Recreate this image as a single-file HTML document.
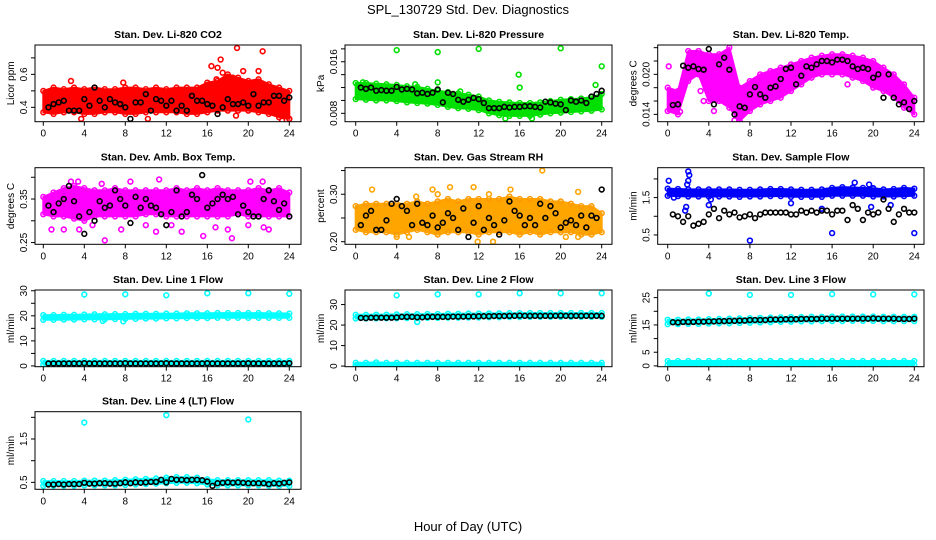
<!DOCTYPE html>
<html><head><meta charset="utf-8">
<style>
html,body{margin:0;padding:0;background:#fff;}
svg{display:block;font-family:"Liberation Sans",sans-serif;}
</style></head>
<body>
<svg id="chart" width="936" height="540" viewBox="0 0 936 540" xmlns="http://www.w3.org/2000/svg">
<text x="468" y="14" text-anchor="middle" font-size="13">SPL_130729  Std. Dev. Diagnostics</text>
<text x="468" y="531" text-anchor="middle" font-size="13">Hour of Day (UTC)</text>
</svg>
<script>
// ---------- data ----------
const hours = [0,1,2,3,4,5,6,7,8,9,10,11,12,13,14,15,16,17,18,19,20,21,22,23,24];
const blackTimes = [0.5,1,1.5,2,2.5,3,3.5,4,4.5,5,5.5,6,6.5,7,7.5,8,8.5,9,9.5,10,10.5,11,11.5,12,12.5,13,13.5,14,14.5,15,15.5,16,16.5,17,17.5,18,18.5,19,19.5,20,20.5,21,21.5,22,22.5,23,23.5,24];

const co2Lo = [0.37,0.36,0.37,0.37,0.36,0.36,0.37,0.37,0.36,0.36,0.37,0.37,0.37,0.37,0.36,0.36,0.37,0.38,0.38,0.38,0.38,0.37,0.36,0.34,0.33];
const co2Hi = [0.50,0.52,0.51,0.52,0.51,0.52,0.51,0.51,0.52,0.52,0.51,0.52,0.51,0.52,0.52,0.52,0.55,0.56,0.60,0.58,0.56,0.57,0.54,0.52,0.50];
const co2Out = [[16.4,0.65],[17,0.64],[17.3,0.69],[18.9,0.76],[21.4,0.74],[21,0.62],[19.5,0.62],[3.7,0.33],[10.2,0.33],[18.8,0.35],[24,0.33],[23.3,0.32],[17.5,0.61],[18.5,0.58],[19.8,0.55],[2.7,0.56],[7.8,0.55],[16.9,0.57]];
const co2Black = [0.40,0.42,0.43,0.44,0.38,0.38,0.38,0.45,0.41,0.52,0.44,0.40,0.45,0.43,0.42,0.40,0.33,0.43,0.43,0.48,0.38,0.45,0.44,0.41,0.44,0.38,0.41,0.38,0.47,0.44,0.44,0.42,0.41,0.36,0.40,0.45,0.42,0.42,0.43,0.41,0.48,0.41,0.43,0.43,0.47,0.47,0.44,0.46];

const presLo = [0.0102,0.0101,0.0100,0.0100,0.0099,0.0097,0.0096,0.0095,0.0093,0.0090,0.0088,0.0087,0.0085,0.0080,0.0077,0.0076,0.0076,0.0076,0.0078,0.0080,0.0081,0.0082,0.0083,0.0084,0.0086];
const presHi = [0.0127,0.0127,0.0126,0.0125,0.0124,0.0122,0.0121,0.0118,0.0115,0.0113,0.0111,0.0109,0.0106,0.0100,0.0098,0.0097,0.0096,0.0096,0.0097,0.0099,0.0101,0.0102,0.0103,0.0105,0.0110];
const presOut = [[4,0.0178],[8,0.0175],[12,0.0180],[20,0.0181],[24,0.0153],[15.9,0.0140],[16,0.0120],[0.7,0.0128],[8,0.0128],[23.4,0.0124],[5.8,0.0125],[10.2,0.0114],[14.6,0.0072],[17.2,0.0072]];
const presBlack = [0.0120,0.0118,0.0120,0.0115,0.0116,0.0115,0.0115,0.0121,0.0117,0.0118,0.0117,0.0111,0.0112,0.0110,0.0112,0.0117,0.0097,0.0112,0.0110,0.0101,0.0098,0.0101,0.0104,0.0102,0.0096,0.0088,0.0088,0.0088,0.0090,0.0089,0.0090,0.0090,0.0091,0.0091,0.0090,0.0089,0.0098,0.0097,0.0095,0.0094,0.0085,0.0100,0.0098,0.0100,0.0096,0.0106,0.0110,0.0115];

const tempLo = [0.0145,0.0140,0.0190,0.0200,0.0160,0.0160,0.0150,0.0130,0.0145,0.0155,0.0160,0.0165,0.0175,0.0185,0.0195,0.0200,0.0200,0.0200,0.0195,0.0190,0.0180,0.0175,0.0165,0.0150,0.0140];
const tempHi = [0.0180,0.0175,0.0235,0.0235,0.0230,0.0230,0.0240,0.0180,0.0190,0.0200,0.0205,0.0210,0.0215,0.0220,0.0225,0.0228,0.0230,0.0230,0.0228,0.0225,0.0220,0.0210,0.0200,0.0185,0.0165];
const tempOut = [[0.1,0.0212],[1.2,0.0144],[3.5,0.0160],[4.5,0.0145],[6.5,0.0131],[7.5,0.0150],[17.5,0.0185],[21.5,0.0195],[3.2,0.0175],[5.3,0.0178]];
const tempBlack = [0.0154,0.0155,0.0213,0.0210,0.0212,0.0208,0.0207,0.0238,0.0155,0.0215,0.0225,0.0207,0.0140,0.0152,0.0150,0.0170,0.0181,0.0170,0.0165,0.0180,0.0182,0.0193,0.0208,0.0210,0.0185,0.0198,0.0212,0.0210,0.0215,0.0220,0.0220,0.0218,0.0222,0.0222,0.0220,0.0212,0.0208,0.0210,0.0208,0.0195,0.0200,0.0165,0.0200,0.0165,0.0155,0.0158,0.0148,0.0160];

const ambLo = [0.315,0.31,0.31,0.305,0.30,0.31,0.31,0.31,0.31,0.31,0.315,0.315,0.31,0.31,0.31,0.31,0.31,0.31,0.31,0.315,0.31,0.31,0.31,0.31,0.31];
const ambHi = [0.355,0.365,0.375,0.38,0.375,0.37,0.37,0.375,0.37,0.37,0.37,0.37,0.37,0.375,0.37,0.375,0.37,0.375,0.37,0.37,0.37,0.375,0.37,0.375,0.365];
const ambOut = [[0.8,0.28],[2,0.28],[3.5,0.28],[6,0.255],[10,0.29],[11,0.275],[12.5,0.29],[13.5,0.275],[15.6,0.265],[16.8,0.285],[18.4,0.26],[18,0.28],[20,0.29],[21.5,0.285],[22,0.28],[2.7,0.39],[3.4,0.39],[11.3,0.395],[20.2,0.39],[21.4,0.39],[8.5,0.39],[5.7,0.385],[4.8,0.29],[7.6,0.28]];
const ambBlack = [0.335,0.32,0.34,0.35,0.38,0.345,0.31,0.27,0.32,0.30,0.345,0.33,0.335,0.37,0.35,0.335,0.295,0.355,0.33,0.35,0.335,0.33,0.315,0.29,0.32,0.37,0.31,0.32,0.36,0.35,0.405,0.33,0.34,0.35,0.36,0.35,0.355,0.315,0.335,0.32,0.31,0.31,0.35,0.37,0.345,0.325,0.34,0.31];

const rhLo = [0.225,0.22,0.22,0.22,0.215,0.22,0.225,0.22,0.215,0.22,0.22,0.22,0.215,0.22,0.22,0.22,0.215,0.22,0.215,0.22,0.22,0.22,0.215,0.215,0.22];
const rhHi = [0.275,0.28,0.28,0.28,0.28,0.28,0.285,0.28,0.285,0.29,0.285,0.29,0.29,0.29,0.29,0.295,0.29,0.29,0.29,0.285,0.285,0.28,0.275,0.275,0.26];
const rhOut = [[1.6,0.31],[7.5,0.31],[9.2,0.315],[11.5,0.315],[15.1,0.31],[18.2,0.35],[21.7,0.305],[13.4,0.20],[4,0.21],[5.2,0.21],[11.9,0.20],[20.5,0.21],[21.7,0.21],[13,0.30],[8,0.30],[5.9,0.295]];
const rhBlack = [0.235,0.255,0.265,0.225,0.225,0.245,0.28,0.29,0.275,0.265,0.235,0.28,0.24,0.235,0.255,0.23,0.24,0.26,0.25,0.225,0.27,0.21,0.24,0.275,0.225,0.25,0.235,0.215,0.245,0.285,0.265,0.255,0.235,0.25,0.235,0.28,0.25,0.275,0.26,0.23,0.24,0.245,0.235,0.255,0.23,0.255,0.25,0.31];

const flowLo = [1.55,1.54,1.53,1.53,1.53,1.53,1.53,1.52,1.53,1.53,1.54,1.54,1.52,1.52,1.52,1.52,1.55,1.55,1.55,1.55,1.53,1.53,1.53,1.54,1.55];
const flowHi = [1.74,1.73,1.72,1.72,1.72,1.72,1.72,1.71,1.71,1.72,1.73,1.73,1.72,1.71,1.71,1.72,1.76,1.78,1.77,1.76,1.75,1.72,1.73,1.76,1.74];
const flowOut = [[0.1,1.95],[1.8,1.25],[1.7,1.15],[2.0,2.2],[2.1,2.1],[1.9,1.85],[2,1.95],[4,1.3],[8,0.35],[16,0.55],[24,0.55],[12,1.35],[18.2,1.9],[19.6,1.85],[19.8,1.25],[21.7,1.3],[15,1.2],[20,1.75],[4.2,1.45],[0.6,1.5]];
const flowBlack = [1.05,1.0,0.85,1.0,0.75,0.8,0.85,1.05,1.2,0.95,1.15,1.05,1.1,0.97,1.0,1.05,0.95,1.05,1.1,1.1,1.1,1.1,1.1,1.05,1.05,1.15,1.1,1.15,1.1,1.15,1.15,1.05,1.15,1.15,0.9,1.3,1.2,0.9,1.1,1.05,1.1,1.45,1.2,0.85,1.05,1.2,1.1,1.1];

const l1LoA = [18.4,18.4,18.5,18.5,18.6,18.6,18.6,18.7,18.8,18.8,18.9,18.9,19.0,19.0,19.1,19.1,19.1,19.2,19.2,19.2,19.2,19.2,19.2,19.2,19.2];
const l1HiA = [20.3,20.3,20.4,20.4,20.5,20.6,20.6,20.7,20.7,20.8,20.8,20.8,20.9,20.9,21.0,21.0,21.0,21.1,21.1,21.1,21.1,21.1,21.0,21.0,20.9];
const l1LoB = [0.5,0.5,0.5,0.5,0.5,0.5,0.5,0.5,0.5,0.5,0.5,0.5,0.5,0.5,0.5,0.5,0.5,0.5,0.5,0.5,0.5,0.5,0.5,0.5,0.5];
const l1HiB = [2.0,2.0,2.0,2.0,2.0,2.0,2.0,2.0,2.0,2.0,2.0,2.0,2.0,2.0,2.0,2.0,2.0,2.0,2.0,2.0,2.0,2.0,2.0,2.0,2.0];
const l1Out = [[4,28.5],[8,28.6],[12,28.2],[16,29],[20,29],[24,28.8],[5.8,18],[7.8,17.8]];
const l1Black = [1.0,1.0,1.0,1.0,1.0,1.0,1.0,1.1,1.0,1.0,1.0,1.0,1.0,1.0,1.0,1.1,1.0,1.0,1.0,1.0,1.0,1.0,1.0,1.1,1.0,1.0,1.0,1.0,1.0,1.0,1.0,1.1,1.0,1.0,1.0,1.0,1.0,1.0,1.0,1.1,1.0,1.0,1.0,1.0,1.0,1.0,1.0,1.1];

const l2LoA = [23.2,23.2,23.2,23.3,23.3,23.4,23.4,23.5,23.5,23.6,23.6,23.7,23.7,23.8,23.8,23.9,23.9,24.0,24.0,24.0,24.0,24.0,24.0,24.0,24.0];
const l2HiA = [25.0,25.0,25.1,25.1,25.2,25.3,25.3,25.4,25.4,25.5,25.5,25.6,25.6,25.7,25.7,25.8,25.8,25.9,25.9,25.9,25.9,25.9,25.9,25.9,25.9];
const l2LoB = [0.3,0.3,0.3,0.3,0.3,0.3,0.3,0.3,0.3,0.3,0.3,0.3,0.3,0.3,0.3,0.3,0.3,0.3,0.3,0.3,0.3,0.3,0.3,0.3,0.3];
const l2HiB = [1.6,1.6,1.8,1.6,1.6,1.6,1.6,1.6,1.6,1.6,1.6,1.6,1.6,1.6,1.6,1.6,1.6,1.6,1.6,1.6,1.6,1.6,1.6,1.6,1.6];
const l2Out = [[4,34.5],[8,35],[12,35],[16,35.5],[20,35.5],[24,35.5],[6,21.5]];
const l2Black = [23.5,23.4,23.6,23.6,23.6,23.6,23.6,23.7,24.0,24.0,24.0,23.8,23.8,24.0,24.0,24.0,24.0,24.0,24.1,24.1,24.1,24.2,24.2,24.3,24.3,24.3,24.4,24.4,24.4,24.5,24.5,24.6,24.5,24.5,24.5,24.5,24.5,24.5,24.5,24.6,24.5,24.5,24.5,24.5,24.5,24.5,24.5,24.5];

const l3LoA = [15.3,15.3,15.4,15.4,15.5,15.6,15.6,15.7,15.8,15.9,16.0,16.1,16.2,16.3,16.3,16.4,16.4,16.4,16.5,16.5,16.5,16.4,16.4,16.4,16.4];
const l3HiA = [16.9,16.9,17.0,17.0,17.1,17.2,17.3,17.4,17.5,17.6,17.7,17.8,17.9,17.9,18.0,18.0,18.1,18.1,18.1,18.1,18.1,18.0,18.0,18.0,18.0];
const l3LoB = [0.3,0.3,0.3,0.3,0.3,0.3,0.3,0.3,0.3,0.3,0.3,0.3,0.3,0.3,0.3,0.3,0.3,0.3,0.3,0.3,0.3,0.3,0.3,0.3,0.3];
const l3HiB = [1.8,1.8,1.8,1.8,1.8,1.8,1.8,1.8,1.8,1.8,1.8,1.8,1.8,1.8,1.8,1.8,1.8,1.8,1.8,1.8,1.8,1.8,1.8,1.8,1.8];
const l3Out = [[4,26.5],[8,26],[12,26],[16,26.3],[20,26.2],[24,26.2]];
const l3Black = [16.0,15.9,16.1,16.1,16.1,16.2,16.2,16.3,16.3,16.4,16.4,16.5,16.5,16.6,16.6,16.8,16.8,16.8,16.8,17.0,17.0,17.0,17.1,17.1,17.1,17.2,17.2,17.2,17.2,17.3,17.3,17.3,17.3,17.3,17.3,17.3,17.3,17.3,17.3,17.4,17.3,17.3,17.3,17.3,17.2,17.2,17.2,17.3];

const l4Lo = [0.42,0.42,0.42,0.42,0.43,0.43,0.43,0.43,0.44,0.45,0.46,0.47,0.48,0.49,0.49,0.48,0.45,0.43,0.43,0.43,0.43,0.43,0.42,0.42,0.42];
const l4Hi = [0.53,0.53,0.53,0.53,0.54,0.54,0.54,0.55,0.56,0.57,0.58,0.59,0.61,0.62,0.62,0.61,0.57,0.55,0.55,0.55,0.55,0.55,0.55,0.54,0.54];
const l4Out = [[4,1.88],[12,2.05],[20,1.95]];
const l4Black = [0.45,0.45,0.46,0.45,0.46,0.46,0.46,0.49,0.47,0.47,0.48,0.48,0.47,0.47,0.48,0.50,0.48,0.50,0.49,0.50,0.51,0.51,0.56,0.50,0.58,0.56,0.56,0.55,0.56,0.56,0.55,0.52,0.42,0.48,0.49,0.50,0.49,0.50,0.49,0.48,0.48,0.48,0.48,0.46,0.48,0.47,0.49,0.50];

// ---------- layout ----------
const NS = "http://www.w3.org/2000/svg";
const svg = document.getElementById('chart');
const cols = [{l:35,r:301,x0:43.3,x24:289.3},{l:345,r:612,x0:355.7,x24:601.7},{l:657.7,r:924,x0:667.7,x24:914.3}];
const rows = [{t:45,b:121.7},{t:167.7,b:244.3},{t:290,b:366.7},{t:411.7,b:489.3}];

const panels = [
 {key:'co2',title:'Stan. Dev. Li-820 CO2',ylab:'Licor ppm',c:0,r:0,ymin:0.313,ymax:0.778,ticks:[0.4,0.5,0.6,0.7],labels:[0.4,0.6],fmt:1,col:'#ff0000',bands:[[co2Lo,co2Hi]],out:co2Out,black:co2Black},
 {key:'pressure',title:'Stan. Dev. Li-820 Pressure',ylab:'kPa',c:1,r:0,ymin:0.0067,ymax:0.0186,ticks:[0.008,0.010,0.012,0.014,0.016,0.018],labels:[0.008,0.016],fmt:3,col:'#00e000',bands:[[presLo,presHi]],out:presOut,black:presBlack},
 {key:'temp',title:'Stan. Dev. Li-820 Temp.',ylab:'degrees C',c:2,r:0,ymin:0.0129,ymax:0.0244,ticks:[0.014,0.016,0.018,0.020,0.022,0.024],labels:[0.014,0.020],fmt:3,col:'#ff00ff',bands:[[tempLo,tempHi]],out:tempOut,black:tempBlack},
 {key:'ambtemp',title:'Stan. Dev. Amb. Box Temp.',ylab:'degrees C',c:0,r:1,ymin:0.246,ymax:0.422,ticks:[0.25,0.30,0.35,0.40],labels:[0.25,0.35],fmt:2,col:'#ff00ff',bands:[[ambLo,ambHi]],out:ambOut,black:ambBlack},
 {key:'rh',title:'Stan. Dev. Gas Stream RH',ylab:'percent',c:1,r:1,ymin:0.1945,ymax:0.356,ticks:[0.20,0.25,0.30,0.35],labels:[0.20,0.30],fmt:2,col:'#ffa500',edge:'#ff9900',bands:[[rhLo,rhHi]],out:rhOut,black:rhBlack},
 {key:'sampleflow',title:'Stan. Dev. Sample Flow',ylab:'ml/min',c:2,r:1,ymin:0.25,ymax:2.30,ticks:[0.5,1.0,1.5,2.0],labels:[0.5,1.5],fmt:1,col:'#0000ff',bands:[[flowLo,flowHi]],out:flowOut,black:flowBlack},
 {key:'line1',title:'Stan. Dev. Line 1 Flow',ylab:'ml/min',c:0,r:2,ymin:-0.3,ymax:30.3,ticks:[0,5,10,15,20,25,30],labels:[0,10,20,30],fmt:0,col:'#00ffff',bands:[[l1LoA,l1HiA],[l1LoB,l1HiB]],out:l1Out,black:l1Black},
 {key:'line2',title:'Stan. Dev. Line 2 Flow',ylab:'ml/min',c:1,r:2,ymin:-0.3,ymax:37.1,ticks:[0,10,20,30],labels:[0,10,20,30],fmt:0,col:'#00ffff',bands:[[l2LoA,l2HiA],[l2LoB,l2HiB]],out:l2Out,black:l2Black},
 {key:'line3',title:'Stan. Dev. Line 3 Flow',ylab:'ml/min',c:2,r:2,ymin:-0.3,ymax:27.8,ticks:[0,5,10,15,20,25],labels:[0,5,15,25],fmt:0,col:'#00ffff',bands:[[l3LoA,l3HiA],[l3LoB,l3HiB]],out:l3Out,black:l3Black},
 {key:'line4',title:'Stan. Dev. Line 4 (LT) Flow',ylab:'ml/min',c:0,r:3,ymin:0.34,ymax:2.13,ticks:[0.5,1.0,1.5,2.0],labels:[0.5,1.5],fmt:1,col:'#00ffff',bands:[[l4Lo,l4Hi]],out:l4Out,black:l4Black}
];
const xTicks = [0,4,8,12,16,20,24];

function mk(tag, attrs, parent){
  const e = document.createElementNS(NS, tag);
  for (const k in attrs) e.setAttribute(k, attrs[k]);
  (parent||svg).appendChild(e);
  return e;
}

panels.forEach(p => {
  const C = cols[p.c], R = rows[p.r];
  const xs = h => C.x0 + (C.x24 - C.x0) * h / 24;
  const ys = v => R.b - (v - p.ymin) / (p.ymax - p.ymin) * (R.b - R.t);
  const g = mk('g', {});
  
  
  const clip = mk('clipPath', {id:'clip-' + p.key}, g);
  mk('rect', {x:C.l, y:R.t, width:C.r - C.l, height:R.b - R.t}, clip);
  const data = mk('g', {'clip-path':'url(#clip-' + p.key + ')'}, g);

  p.bands.forEach((b, bi) => {
    const lo = b[0], hi = b[1];
    let d = '';
    hours.forEach((h, i) => { d += (i ? 'L' : 'M') + xs(h).toFixed(1) + ',' + ys(hi[i]).toFixed(1); });
    for (let i = hours.length - 1; i >= 0; i--) d += 'L' + xs(hours[i]).toFixed(1) + ',' + ys(lo[i]).toFixed(1);
    const poly = mk('path', {d: d + 'Z', fill: p.col, stroke: p.col, 'stroke-width': 2, 'stroke-linejoin':'round'}, data);
    
    
    hours.forEach((h, i) => {
      [lo[i], hi[i]].forEach(v => {
        const c = mk('circle', {cx: xs(h), cy: ys(v), r: 2.4, fill: 'none', stroke: p.edge || p.col, 'stroke-width': 1.5}, data);
        
        
      });
    });
  });
  p.out.forEach(o => {
    const c = mk('circle', {cx: xs(o[0]), cy: ys(o[1]), r: 2.4, fill: 'none', stroke: p.col, 'stroke-width': 1.6}, data);
    
    
  });
  blackTimes.forEach((t, i) => {
    const c = mk('circle', {cx: xs(t), cy: ys(p.black[i]), r: 2.4, fill: 'none', stroke: '#000', 'stroke-width': 1.6}, data);
    
    
  });

  const box = mk('rect', {x:C.l, y:R.t, width:C.r - C.l, height:R.b - R.t, fill:'none', stroke:'#000', 'stroke-width':1}, g);
  
  

  const xa = mk('g', {}, g);
  
  
  xTicks.forEach(t => {
    mk('line', {x1: xs(t), x2: xs(t), y1: R.b, y2: R.b + 4, stroke: '#000'}, xa);
    const tx = mk('text', {x: xs(t), y: R.b + 15, 'text-anchor': 'middle', 'font-size': 10}, xa);
    tx.textContent = t;
  });
  const ya = mk('g', {}, g);
  
  
  p.ticks.forEach(t => {
    if (ys(t) < R.t - 1) return;
    mk('line', {x1: C.l - 4, x2: C.l, y1: ys(t), y2: ys(t), stroke: '#000'}, ya);
  });
  p.labels.forEach(t => {
    const x = C.l - 8, y = ys(t);
    const tx = mk('text', {x: x, y: y, 'text-anchor': 'middle', 'font-size': 10, transform: 'rotate(-90 ' + x + ' ' + y + ')'}, ya);
    tx.textContent = t.toFixed(p.fmt);
  });
  const tt = mk('text', {x: (C.l + C.r) / 2, y: R.t - 7, 'text-anchor': 'middle', 'font-size': 10.5, 'font-weight': 'bold'}, g);
  tt.textContent = p.title;
  
  
  const yx = C.l - 21, yy = (R.t + R.b) / 2;
  const yl = mk('text', {x: yx, y: yy, 'text-anchor': 'middle', 'font-size': 10, transform: 'rotate(-90 ' + yx + ' ' + yy + ')'}, g);
  yl.textContent = p.ylab;
  
  
});
</script>
</body></html>
